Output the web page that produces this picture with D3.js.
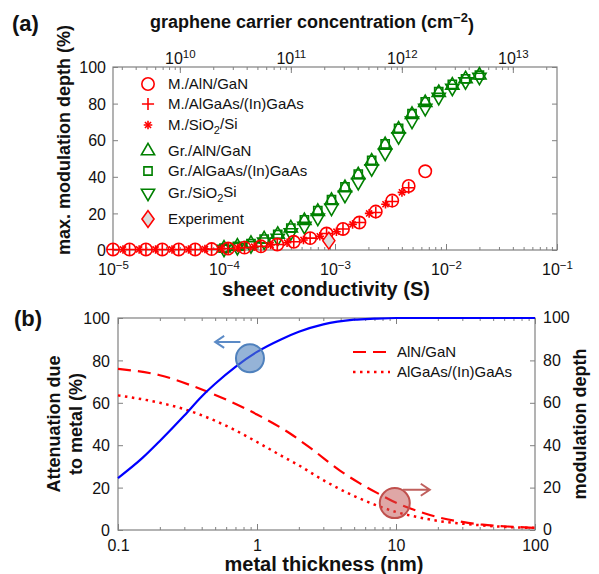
<!DOCTYPE html>
<html>
<head>
<meta charset="utf-8">
<script src="https://cdn.jsdelivr.net/npm/d3@7"></script>
<style>
  body { margin: 0; background: #fff; }
  text { font-family: "Liberation Sans", Arial, sans-serif; fill: #111; }
</style>
</head>
<body>
<svg id="chart" width="599" height="574"></svg>
<script>
// ---- panel (a) data: max. modulation depth (%) vs sheet conductivity (S)
const mSigma = [1e-5, 1.41e-5, 1.98e-5, 2.78e-5, 3.91e-5, 5.5e-5, 7.73e-5, 1.09e-4, 1.53e-4, 2.15e-4,
  3.02e-4, 4.25e-4, 5.97e-4, 8.4e-4, 1.18e-3, 1.66e-3, 2.33e-3, 3.28e-3, 4.61e-3, 6.5e-3];
const mAlnGan = [0.3, 0.3, 0.3, 0.3, 0.3, 0.3, 0.5, 0.8, 1.3, 2, 3, 4.5, 6.5, 9, 11.5, 15, 21, 27, 35, 43];
const mAlgaas = [0.3, 0.3, 0.3, 0.3, 0.3, 0.3, 0.5, 0.8, 1.3, 2, 3, 4.5, 6.5, 9, 11.5, 15, 20.5, 26.5, 34];
const mSioSigma = [1.23e-5, 1.72e-5, 2.42e-5, 3.4e-5, 4.79e-5, 6.73e-5, 9.5e-5, 1.33e-4, 1.87e-4, 2.63e-4,
  3.7e-4, 5.2e-4, 7.3e-4, 1.03e-3, 1.44e-3, 2.03e-3, 2.85e-3, 4.01e-3];
const mSio = [0.3, 0.3, 0.3, 0.3, 0.3, 0.5, 0.7, 1.1, 1.8, 2.8, 4, 5.5, 7.5, 10, 14, 20, 25, 31.5];

const grSigma = [1.0e-4, 1.32e-4, 1.75e-4, 2.3e-4, 3.05e-4, 4.0e-4, 5.3e-4, 7.0e-4, 9.3e-4, 1.23e-3,
  1.62e-3, 2.14e-3, 2.83e-3, 3.74e-3, 4.94e-3, 6.5e-3, 8.6e-3, 1.14e-2, 1.5e-2, 2.0e-2];
const grAlnGan = [1, 2, 3.5, 6, 8.5, 12, 16, 21, 27, 34, 41, 48.5, 57.5, 66, 74, 80.5, 86, 90, 93.5, 95.5];
const grAlgaas = [1, 2, 3.5, 6, 8.5, 12, 16.5, 21.5, 27.5, 34.5, 41.5, 49, 58, 66.5, 74.5, 81, 86.5, 90.5, 93.5, 95.5];
const grSio = [0.5, 1.5, 2.5, 4.5, 6.5, 9.5, 13, 17.5, 23, 30, 37, 44.5, 53, 62, 70.5, 77.5, 83.5, 88.5, 92, 94.5];

const expSigma = [8.8e-4];
const expDepth = [4];

const legendA = ["M./AlN/GaN", "M./AlGaAs/(In)GaAs", "M./SiO2/Si", "Gr./AlN/GaN",
  "Gr./AlGaAs/(In)GaAs", "Gr./SiO2Si", "Experiment"];

// ---- panel (b) data: metal thickness (nm)
const tBlue = [0.1, 0.15, 0.2, 0.3, 0.4, 0.5, 0.7, 1, 1.5, 2, 3, 5, 7, 10, 20, 50, 100];
const attenuation = [24.5, 34, 42, 54, 63, 69, 77, 84, 90, 93.5, 97, 99.2, 99.7, 100, 100, 100, 100];
const tAlnGan = [0.1, 0.2, 0.41, 1, 1.73, 2.5, 3.95, 5.5, 7.3, 10.7, 15, 21, 30, 42, 70, 100];
const depthAlnGan = [76, 73, 66, 54.5, 45.5, 38, 28, 22, 17.5, 12, 8.5, 5.7, 3.8, 2.5, 1.5, 1];
const tAlgaas = [0.1, 0.2, 0.3, 0.5, 0.7, 1, 1.5, 2, 3, 5, 7, 10, 15, 20, 30, 50, 70, 100];
const depthAlgaas = [63.5, 60, 57, 51.5, 47, 41.5, 35, 30.5, 23.5, 16, 12, 8.5, 5.8, 4.3, 3, 1.8, 1.3, 1];

const svg = d3.select("#chart");
const axisColor = "#808080";
const red = "#ff0000", green = "#008000", blue = "#0000ff";

// superscript power-of-ten label
function powLabel(sel) {
  sel.each(function(d) {
    const e = Math.round(Math.log10(d));
    const t = d3.select(this).text(null);
    t.append("tspan").text("10");
    t.append("tspan").attr("dy", "-0.55em").attr("font-size", "0.72em")
      .text(e < 0 ? "\u2212" + (-e) : e);
  });
}

function styleAxis(g) {
  g.select(".domain").remove();
  g.selectAll(".tick line").attr("stroke", axisColor);
  g.selectAll(".tick text").attr("font-size", 16).attr("font-family", null).attr("fill", "#111");
}

function frame(x, y) {
  const [x0, x1] = x.range(), [y0, y1] = y.range();
  svg.append("rect")
    .attr("x", x0).attr("y", y1).attr("width", x1 - x0).attr("height", y0 - y1)
    .attr("fill", "none").attr("stroke", axisColor).attr("stroke-width", 1.2);
}

// ================= panel (a) =================
const xA = d3.scaleLog().domain([1e-5, 1e-1]).range([113, 557]);
const xTopA = d3.scaleLog().domain([2.5e9, 2.5e13]).range([113, 557]);
const yA = d3.scaleLinear().domain([0, 100]).range([250, 67]);
const decadesA = [1e-5, 1e-4, 1e-3, 1e-2, 1e-1];
const decadesTop = [1e10, 1e11, 1e12, 1e13];
const pctTicks = [0, 20, 40, 60, 80, 100];

svg.append("g").attr("transform", "translate(0,250)")
  .call(d3.axisBottom(xA).tickValues(xA.ticks()).tickSize(-3).tickFormat(""))
  .call(styleAxis);
svg.append("g").attr("transform", "translate(0,250)")
  .call(d3.axisBottom(xA).tickValues(decadesA).tickSize(-6))
  .call(styleAxis)
  .call(g => g.selectAll(".tick text").attr("y", 25).attr("dy", null).call(powLabel));

svg.append("g").attr("transform", "translate(0,67)")
  .call(d3.axisTop(xTopA).tickValues(xTopA.ticks()).tickSize(-3).tickFormat(""))
  .call(styleAxis);
svg.append("g").attr("transform", "translate(0,67)")
  .call(d3.axisTop(xTopA).tickValues(decadesTop).tickSize(-6))
  .call(styleAxis)
  .call(g => g.selectAll(".tick text").attr("y", -3).attr("dy", null).call(powLabel));

svg.append("g").attr("transform", "translate(113,0)")
  .call(d3.axisLeft(yA).tickValues(pctTicks).tickSize(-5).tickPadding(7))
  .call(styleAxis)
  .call(g => g.selectAll(".tick text").attr("dy", "0.36em"));
svg.append("g").attr("transform", "translate(557,0)")
  .call(d3.axisRight(yA).tickValues(pctTicks).tickSize(-5).tickFormat(""))
  .call(styleAxis);
frame(xA, yA);

// marker shapes
const sym = {
  circle: d3.symbol(d3.symbolCircle, 120)(),
  plus: d3.symbol(d3.symbolPlus, 50)(),
  plusS: d3.symbol(d3.symbolPlus, 26)(),
  timesS: d3.symbol(d3.symbolTimes, 26)(),
  triUp: d3.symbol(d3.symbolTriangle2, 125)(),
  square: d3.symbol(d3.symbolSquare2, 85)(),
  diamond: d3.symbol(d3.symbolDiamond2, 180)()
};

function drawMarkers(xs, ys, shape, color, opts = {}) {
  const g = svg.append("g");
  const pts = xs.map((s, i) => [s, ys[i]]);
  const paths = Array.isArray(shape) ? shape : [shape];
  paths.forEach(p => {
    g.selectAll(null).data(pts).join("path")
      .attr("d", p)
      .attr("transform", d => `translate(${xA(d[0])},${yA(d[1])})` + (opts.rot ? " rotate(180)" : ""))
      .attr("fill", "none").attr("stroke", color).attr("stroke-width", 1.6);
  });
}

// graphene series
drawMarkers(grSigma, grAlnGan, sym.triUp, green);
drawMarkers(grSigma, grAlgaas, sym.square, green);
drawMarkers(grSigma, grSio, sym.triUp, green, { rot: true });
// metal series
drawMarkers(mSigma, mAlnGan, sym.circle, red);
drawMarkers(mSigma.slice(0, mAlgaas.length), mAlgaas, sym.plus, red);
drawMarkers(mSioSigma, mSio, [sym.plusS, sym.timesS], red);
// experiment
svg.append("g").selectAll("path").data(expSigma).join("path")
  .attr("d", sym.diamond)
  .attr("transform", (d, i) => `translate(${xA(d)},${yA(expDepth[i]) - 2}) scale(0.72,1)`)
  .attr("fill", "#dcdcdc").attr("stroke", red).attr("stroke-width", 1.5)
  .attr("vector-effect", "non-scaling-stroke");

// legend (a)
const legY = [84, 104, 125, 151, 171, 193, 219];
const legShapes = [
  { p: [sym.circle], c: red }, { p: [sym.plus], c: red }, { p: [sym.plusS, sym.timesS], c: red },
  { p: [sym.triUp], c: green }, { p: [sym.square], c: green }, { p: [sym.triUp], c: green, rot: true },
  { p: [sym.diamond], c: red, fill: "#dcdcdc", sx: 0.72 }
];
const legA = svg.append("g");
legendA.forEach((name, i) => {
  const s = legShapes[i];
  s.p.forEach(p => {
    legA.append("path").attr("d", p)
      .attr("transform", `translate(148,${legY[i]})` + (s.rot ? " rotate(180)" : "") + (s.sx ? ` scale(${s.sx},1)` : ""))
      .attr("fill", s.fill || "none").attr("stroke", s.c).attr("stroke-width", 1.6)
      .attr("vector-effect", "non-scaling-stroke");
  });
  const t = legA.append("text").attr("x", 168).attr("y", legY[i]).attr("dy", "0.36em").attr("font-size", 15);
  const m = name.match(/^(.*SiO)2(.*)$/);
  if (m) {
    t.append("tspan").text(m[1]);
    t.append("tspan").attr("dy", "0.35em").attr("font-size", 11).text("2");
    t.append("tspan").attr("dy", "-0.35em").text(m[2]);
  } else t.text(name);
});

// titles (a)
svg.append("text").attr("x", 12).attr("y", 31).attr("font-size", 22).attr("font-weight", "bold").text("(a)");
const topTitle = svg.append("text").attr("x", 150).attr("y", 28)
  .attr("font-size", 18).attr("font-weight", "bold");
topTitle.append("tspan").text("graphene carrier concentration (cm");
topTitle.append("tspan").attr("dy", "-0.5em").attr("font-size", 13).text("\u22122");
topTitle.append("tspan").attr("dy", "0.5em").text(")");
svg.append("text").attr("x", 326).attr("y", 296).attr("text-anchor", "middle")
  .attr("font-size", 20).attr("font-weight", "bold").text("sheet conductivity (S)");
svg.append("text").attr("transform", "translate(70,140) rotate(-90)").attr("text-anchor", "middle")
  .attr("font-size", 18).attr("font-weight", "bold").text("max. modulation depth (%)");

// ================= panel (b) =================
const xB = d3.scaleLog().domain([0.1, 100]).range([118, 535]);
const yB = d3.scaleLinear().domain([0, 100]).range([530, 318]);
const decadesB = [0.1, 1, 10, 100];

svg.append("g").attr("transform", "translate(0,530)")
  .call(d3.axisBottom(xB).tickValues(xB.ticks()).tickSize(-3).tickFormat(""))
  .call(styleAxis);
svg.append("g").attr("transform", "translate(0,530)")
  .call(d3.axisBottom(xB).tickValues(decadesB).tickSize(-6).tickFormat(d3.format("~g")))
  .call(styleAxis)
  .call(g => g.selectAll(".tick text").attr("y", 21).attr("dy", null));
svg.append("g").attr("transform", "translate(0,318)")
  .call(d3.axisTop(xB).tickValues(xB.ticks()).tickSize(-3).tickFormat(""))
  .call(styleAxis);
svg.append("g").attr("transform", "translate(0,318)")
  .call(d3.axisTop(xB).tickValues(decadesB).tickSize(-6).tickFormat(""))
  .call(styleAxis);
svg.append("g").attr("transform", "translate(118,0)")
  .call(d3.axisLeft(yB).tickValues(pctTicks).tickSize(-5).tickPadding(8))
  .call(styleAxis)
  .call(g => g.selectAll(".tick text").attr("dy", "0.36em"));
svg.append("g").attr("transform", "translate(535,0)")
  .call(d3.axisRight(yB).tickValues(pctTicks).tickSize(-5).tickPadding(8))
  .call(styleAxis)
  .call(g => g.selectAll(".tick text").attr("dy", "0.3em"));
frame(xB, yB);

const lineB = d3.line().x(d => xB(d[0])).y(d => yB(d[1])).curve(d3.curveMonotoneX);
svg.append("path").datum(tAlnGan.map((t, i) => [t, depthAlnGan[i]])).attr("d", lineB)
  .attr("fill", "none").attr("stroke", red).attr("stroke-width", 2.2).attr("stroke-dasharray", "13,7");
svg.append("path").datum(tAlgaas.map((t, i) => [t, depthAlgaas[i]])).attr("d", lineB)
  .attr("fill", "none").attr("stroke", red).attr("stroke-width", 2.5).attr("stroke-dasharray", "2.5,4.5");
svg.append("path").datum(tBlue.map((t, i) => [t, attenuation[i]])).attr("d", lineB)
  .attr("fill", "none").attr("stroke", blue).attr("stroke-width", 2.2);

// annotation circles and arrows
function arrow(x1, x2, y, color) {
  const dir = Math.sign(x2 - x1);
  svg.append("path")
    .attr("d", `M${x1},${y}H${x2}M${x2 - dir * 9},${y - 6}L${x2},${y}L${x2 - dir * 9},${y + 6}`)
    .attr("fill", "none").attr("stroke", color).attr("stroke-width", 2);
}
svg.append("circle").attr("cx", xB(0.89)).attr("cy", yB(81)).attr("r", 14)
  .attr("fill", "rgba(79,129,189,0.6)").attr("stroke", "#4f81bd").attr("stroke-width", 2);
arrow(xB(0.76), xB(0.5), yB(88.7), "#5b8ac6");
svg.append("circle").attr("cx", xB(9.8)).attr("cy", yB(12.7)).attr("r", 15)
  .attr("fill", "rgba(192,80,77,0.5)").attr("stroke", "#c0504d").attr("stroke-width", 2);
arrow(xB(11.2), xB(17.5), yB(19), "#c0605d");

// legend (b)
const legB = [["AlN/GaN", "13,7", 2.2], ["AlGaAs/(In)GaAs", "2.5,4.5", 2.5]];
legB.forEach(([name, dash, w], i) => {
  const y = 352 + i * 20;
  svg.append("line").attr("x1", 353).attr("x2", 390).attr("y1", y).attr("y2", y)
    .attr("stroke", red).attr("stroke-width", w).attr("stroke-dasharray", dash);
  svg.append("text").attr("x", 397).attr("y", y).attr("dy", "0.36em").attr("font-size", 15).text(name);
});

// titles (b)
svg.append("text").attr("x", 14).attr("y", 326).attr("font-size", 22).attr("font-weight", "bold").text("(b)");
svg.append("text").attr("x", 324).attr("y", 571).attr("text-anchor", "middle")
  .attr("font-size", 20).attr("font-weight", "bold").text("metal thickness (nm)");
const yLabB = svg.append("text").attr("transform", "translate(0,424) rotate(-90)").attr("text-anchor", "middle")
  .attr("font-size", 18).attr("font-weight", "bold");
yLabB.append("tspan").attr("x", 0).attr("y", 60).text("Attenuation due");
yLabB.append("tspan").attr("x", 0).attr("y", 82).text("to metal (%)");
svg.append("text").attr("transform", "translate(586,424) rotate(-90)").attr("text-anchor", "middle")
  .attr("font-size", 18).attr("font-weight", "bold").text("modulation depth");
</script>
</body>
</html>
